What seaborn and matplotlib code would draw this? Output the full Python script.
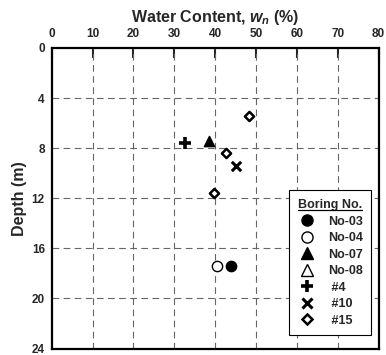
import matplotlib
matplotlib.use("Agg")
import matplotlib.pyplot as plt
import seaborn as sns
import pandas as pd
from matplotlib.lines import Line2D

# ---- data ----
borings = ["No-03", "No-04", "No-07", "No-08", "#4", "#10", "#15"]
legend_labels = ["No-03", "No-04", "No-07", "No-08", " #4", " #10", " #15"]
water_no03 = [43.9]
depth_no03 = [17.4]
water_no04 = [40.5]
depth_no04 = [17.4]
water_no07 = [38.5]
depth_no07 = [7.4]
water_no08 = []
depth_no08 = []
water_b4 = [32.7]
depth_b4 = [7.6]
water_b10 = [45.0]
depth_b10 = [9.4]
water_b15 = [48.2, 42.6, 39.8]
depth_b15 = [5.4, 8.4, 11.6]
x_ticks = [0, 10, 20, 30, 40, 50, 60, 70, 80]
y_ticks = [0, 4, 8, 12, 16, 20, 24]

sns.set_style("white")
plt.rcParams['font.family'] = ['Liberation Sans', 'DejaVu Sans']
plt.rcParams['font.weight'] = 'bold'
plt.rcParams['mathtext.fontset'] = 'custom'
plt.rcParams['mathtext.it'] = 'Liberation Sans:italic:bold'
plt.rcParams['mathtext.rm'] = 'Liberation Sans:bold'

fig = plt.figure(figsize=(3.86, 3.55), dpi=100)
ax = fig.add_axes([0.134, 0.018, 0.847, 0.847])

styles = {
    "No-03": dict(marker="o", facecolor="black", edgecolor="black", s=55, lw=1),
    "No-04": dict(marker="o", facecolor="white", edgecolor="black", s=55, lw=1),
    "No-07": dict(marker="^", facecolor="black", edgecolor="black", s=55, lw=1),
    "No-08": dict(marker="^", facecolor="white", edgecolor="black", s=55, lw=1),
    "#4": dict(marker="+", facecolor="black", edgecolor="black", s=80, lw=2.6),
    "#10": dict(marker="x", facecolor="black", edgecolor="black", s=45, lw=2.2),
    "#15": dict(marker="D", facecolor="white", edgecolor="black", s=22, lw=1.8),
}
data = {
    "No-03": (water_no03, depth_no03),
    "No-04": (water_no04, depth_no04),
    "No-07": (water_no07, depth_no07),
    "No-08": (water_no08, depth_no08),
    "#4": (water_b4, depth_b4),
    "#10": (water_b10, depth_b10),
    "#15": (water_b15, depth_b15),
}

for name in borings:
    xs, ys = data[name]
    if len(xs) == 0:
        continue
    st = styles[name]
    df = pd.DataFrame({"w": xs, "d": ys})
    if name in ("#4", "#10"):
        sns.scatterplot(data=df, x="w", y="d", ax=ax, marker=st["marker"], s=st["s"],
                        color="black", linewidth=st["lw"], zorder=5)
    else:
        sns.scatterplot(data=df, x="w", y="d", ax=ax, marker=st["marker"], s=st["s"],
                        facecolor=st["facecolor"], edgecolor=st["edgecolor"],
                        linewidth=st["lw"], zorder=5)

ax.set_xlim(0, 80)
ax.set_ylim(24, 0)
ax.xaxis.tick_top()
ax.xaxis.set_label_position("top")
ax.set_xticks(x_ticks)
ax.set_yticks(y_ticks)
ax.set_yticks([2, 6, 10, 14, 18, 22], minor=True)
ax.tick_params(axis="x", direction="in", length=7, width=1.5, labelsize=8.5, pad=6,
               bottom=False, top=True)
ax.tick_params(axis="y", which="major", direction="in", length=7, width=1.5,
               labelsize=8.5, pad=5, right=False)
ax.tick_params(axis="y", which="minor", direction="in", length=5, width=1.5, right=False)
for lab in ax.get_xticklabels() + ax.get_yticklabels():
    lab.set_fontweight("bold")

for v in x_ticks[1:-1]:
    ax.axvline(v, color="#666666", lw=0.8, ls=(0, (6, 4)), zorder=1)
for v in y_ticks[1:-1]:
    ax.axhline(v, color="#666666", lw=0.8, ls=(0, (6, 4)), zorder=1)

for sp in ax.spines.values():
    sp.set_linewidth(1.6)
    sp.set_color("black")

ax.set_xlabel(r"Water Content, $w_n$ (%)", fontsize=11.5, fontweight="bold", labelpad=4)
ax.set_ylabel("Depth (m)", fontsize=11.5, fontweight="bold", labelpad=3)

handles = []
for name in borings:
    st = styles[name]
    if name == "#4":
        h = Line2D([], [], ls="none", marker="+", ms=9, mew=2.6, color="black")
    elif name == "#10":
        h = Line2D([], [], ls="none", marker="x", ms=7, mew=2.2, color="black")
    elif name == "#15":
        h = Line2D([], [], ls="none", marker="D", ms=5, mew=1.8, mfc="white", mec="black")
    else:
        h = Line2D([], [], ls="none", marker=st["marker"], ms=8, mew=1,
                   mfc=st["facecolor"], mec="black")
    handles.append(h)

leg = ax.legend(handles, legend_labels, loc="lower left",
                bbox_to_anchor=(0.707, 0.023, 0.29, 0.507),
                mode="expand", frameon=True, fancybox=False, edgecolor="black",
                framealpha=1, prop={"size": 9, "weight": "bold"},
                title="Boring No.", title_fontproperties={"size": 9, "weight": "bold"},
                handletextpad=1.0, labelspacing=0.36, borderpad=0.7, handlelength=1.4)
leg.get_frame().set_linewidth(0.8)

# underline the legend title
fig.canvas.draw()
tb = leg.get_title().get_window_extent(fig.canvas.get_renderer())
inv = fig.transFigure.inverted()
(x0, y0), (x1, y1) = inv.transform([(tb.x0, tb.y0 + 1), (tb.x1, tb.y0 + 1)])
fig.add_artist(Line2D([x0, x1], [y0, y1], color="black", lw=0.9, transform=fig.transFigure,
                      zorder=10))

fig.savefig("out.png", dpi=100)
